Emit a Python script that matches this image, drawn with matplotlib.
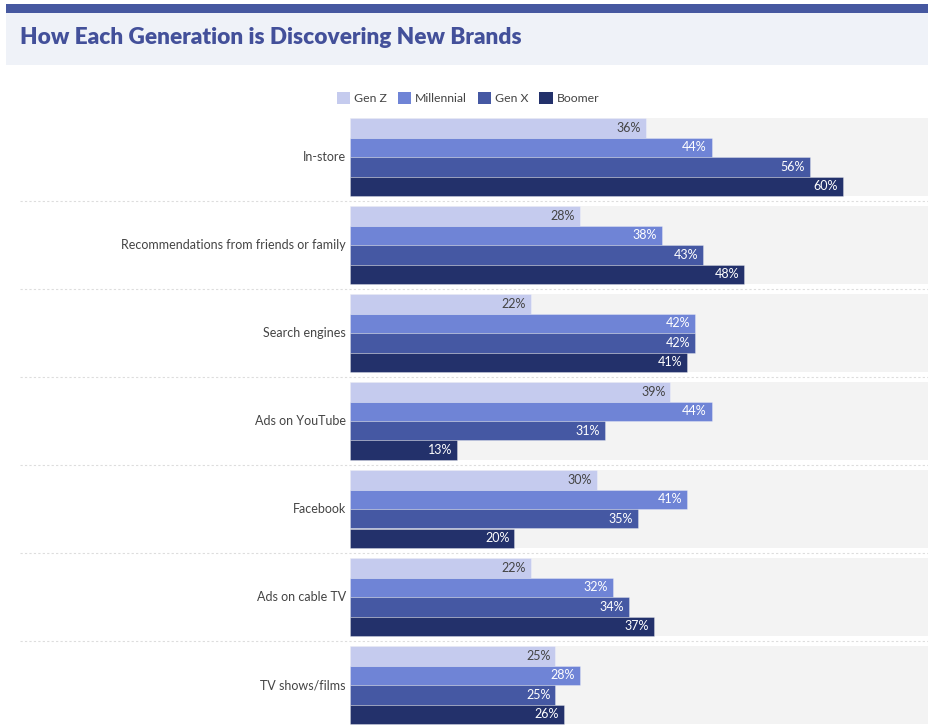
import matplotlib
matplotlib.use("Agg")
import matplotlib.pyplot as plt
from matplotlib.patches import Rectangle, Patch
import matplotlib.transforms as mtransforms

plt.rcParams['font.family'] = ['Lato', 'DejaVu Sans']

categories = ["In-store", "Recommendations from friends or family", "Search engines",
              "Ads on YouTube", "Facebook", "Ads on cable TV", "TV shows/films"]
series_names = ["Gen Z", "Millennial", "Gen X", "Boomer"]
gen_z = [36, 28, 22, 39, 30, 22, 25]
millennial = [44, 38, 42, 44, 41, 32, 28]
gen_x = [56, 43, 42, 31, 35, 34, 25]
boomer = [60, 48, 41, 13, 20, 37, 26]
series = [gen_z, millennial, gen_x, boomer]
colors = ["#c5cbee", "#6f84d6", "#4558a3", "#23316b"]
label_colors = ["#444444", "white", "white", "white"]

W, H = 929, 725
fig = plt.figure(figsize=(W / 100, H / 100), dpi=100)
fig.patch.set_facecolor("white")

# header band and title panel
fig.patches.append(Rectangle((6 / W, 1 - 13 / H), 1 - 6 / W, 9 / H, transform=fig.transFigure,
                             facecolor="#4658a0", edgecolor="none", zorder=0))
fig.patches.append(Rectangle((6 / W, 1 - 65 / H), 1 - 6 / W, 52 / H, transform=fig.transFigure,
                             facecolor="#eff2f8", edgecolor="none", zorder=0))
fig.text(20 / W, 1 - 37 / H, "How Each Generation is Discovering New Brands", fontsize=16.3,
         fontweight="heavy", color="#43509a", ha="left", va="center")

# axes
top_px, bot_px = 110, 725
ax = fig.add_axes([350 / W, 0, 1 - 350 / W, 1 - top_px / H])
pitch = 88.0
c0 = 157.0
ax.set_ylim((bot_px - c0) / pitch, (top_px - c0) / pitch)
px_per = (843 - 350) / 60.0
ax.set_xlim(0, (W - 350) / px_per)
ax.axis("off")

bh = 19.5 / pitch
xmax = ax.get_xlim()[1]
for i in range(len(categories)):
    ax.add_patch(Rectangle((0, i - 2 * bh), xmax, 4 * bh, facecolor="#f3f3f3",
                           edgecolor="none", zorder=0))
for k, (vals, col, lc) in enumerate(zip(series, colors, label_colors)):
    ys = [i - 2 * bh + (k + 0.5) * bh for i in range(len(categories))]
    ax.barh(ys, vals, height=bh, color=col, edgecolor=(1, 1, 1, 0.35), linewidth=0.6, zorder=2)
    for y, v in zip(ys, vals):
        ax.text(v - 0.6, y, f"{v}%", ha="right", va="center", fontsize=9, color=lc, zorder=3)

trans = mtransforms.blended_transform_factory(ax.transAxes, ax.transData)
for i, cat in enumerate(categories):
    ax.text(-0.007, i, cat, transform=trans, ha="right", va="center", fontsize=9,
            color="#444444")
for i in range(len(categories) - 1):
    ax.plot([-(350 - 20) / (W - 350), 1], [i + 0.5, i + 0.5], transform=trans,
            color="#dddddd", linestyle=(0, (2, 2)), linewidth=0.8, clip_on=False)

handles = [Patch(facecolor=c, edgecolor="none", label=s) for s, c in zip(series_names, colors)]
fig.legend(handles=handles, loc="center", bbox_to_anchor=(468 / W, 1 - 98 / H), ncol=4,
           frameon=False, fontsize=8.8, handlelength=1.1, handleheight=1.1,
           handletextpad=0.3, columnspacing=0.9, labelcolor="#444444")

fig.savefig("out.png", dpi=100)
